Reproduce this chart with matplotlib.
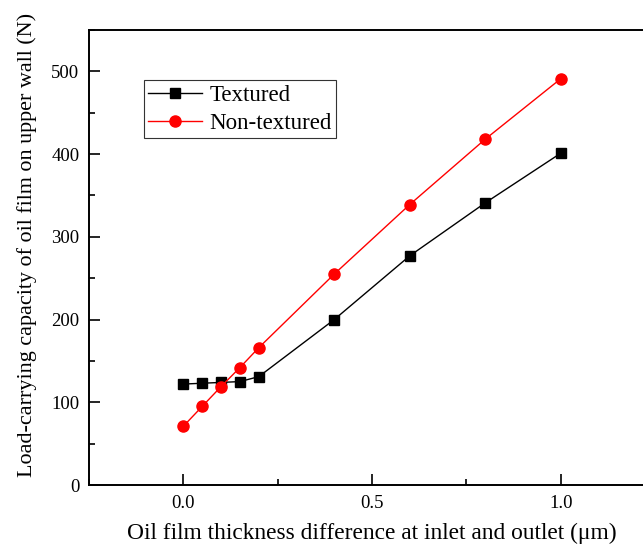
import matplotlib
matplotlib.use("Agg")
import matplotlib.pyplot as plt
from matplotlib.ticker import MultipleLocator

plt.rcParams['font.family'] = ['Liberation Serif', 'DejaVu Serif']

# data
x_vals = [0.0, 0.05, 0.1, 0.15, 0.2, 0.4, 0.6, 0.8, 1.0]
textured = [122, 123, 124, 125, 131, 200, 277, 341, 401]
non_textured = [71, 95, 119, 142, 166, 255, 339, 418, 491]

fig = plt.figure(figsize=(6.43, 5.45), dpi=100)
ax = fig.add_axes([89 / 643, 60 / 545, 566 / 643, 455 / 545])

ax.plot(x_vals, textured, color='black', lw=1, marker='s', ms=7, label='Textured')
ax.plot(x_vals, non_textured, color='red', lw=1, marker='o', ms=8, label='Non-textured')

ax.set_xlim(-0.25, 1.25)
ax.set_ylim(0, 550)
ax.xaxis.set_major_locator(MultipleLocator(0.5))
ax.xaxis.set_minor_locator(MultipleLocator(0.25))
ax.yaxis.set_major_locator(MultipleLocator(100))
ax.yaxis.set_minor_locator(MultipleLocator(50))
ax.tick_params(which='both', direction='in', top=False, right=False, labelsize=13.5)
ax.tick_params(which='major', length=8, width=1.2, pad=7)
ax.tick_params(which='minor', length=4, width=1.2)
for s in ax.spines.values():
    s.set_linewidth(1.4)

ax.set_xlabel('Oil film thickness difference at inlet and outlet (μm)', fontsize=16.8, labelpad=8)
ax.set_ylabel('Load-carrying capacity of oil film on upper wall (N)', fontsize=15.9)
ax.yaxis.set_label_coords(-0.091, 0.527)

leg = ax.legend(loc='upper left', bbox_to_anchor=(0.097, 0.89), fontsize=16.5,
                fancybox=False, edgecolor='#333333', framealpha=1,
                handlelength=2.35, borderpad=0.2, labelspacing=0.3, handletextpad=0.3,
                borderaxespad=0)
leg.get_frame().set_linewidth(0.8)

fig.savefig('out.png', dpi=100)
